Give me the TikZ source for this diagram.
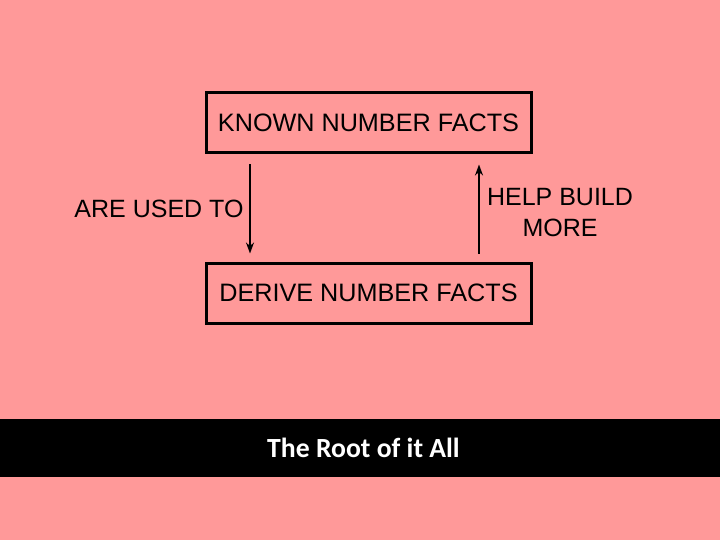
\documentclass[tikz,border=0pt]{standalone}
\usepackage{fontspec}
\setmainfont{Liberation Sans}
\newfontfamily\calib{Carlito}
\usetikzlibrary{arrows.meta}
\definecolor{bgpink}{HTML}{FF9999}
\begin{document}
\begin{tikzpicture}[x=1pt,y=-1pt,
  factbox/.style={draw=black,line width=3pt,minimum width=325pt,minimum height=60pt,inner sep=0pt,font=\fontsize{25.2}{28}\selectfont},
  lbl/.style={font=\fontsize{25}{31}\selectfont,align=center,inner sep=0pt},
  flow/.style={line width=2.4pt,-{Stealth[length=11pt,width=8pt]}}]
\fill[bgpink] (0,0) rectangle (720,540);
\useasboundingbox (0,0) rectangle (720,540);
\fill[black] (0,419) rectangle (720,477);
\node[factbox] (top) at (368.5,123) {KNOWN NUMBER FACTS};
\node[factbox] (bot) at (368.5,293) {DERIVE NUMBER FACTS};
\draw[flow] ([xshift=-118.5pt,yshift=-10pt]top.south) -- ([xshift=-118.5pt,yshift=8pt]bot.north);
\draw[flow] ([xshift=110.5pt,yshift=8pt]bot.north) -- ([xshift=110.5pt,yshift=-10pt]top.south);
\node[lbl] (used) at (159,209) {ARE USED TO};
\node[lbl] (help) at (560,213) {HELP BUILD\\MORE};
\node[text=white,inner sep=0pt,font=\calib\bfseries\fontsize{27.7}{32}\selectfont] (title) at (363.5,448) {The Root of it All};
\end{tikzpicture}
\end{document}
